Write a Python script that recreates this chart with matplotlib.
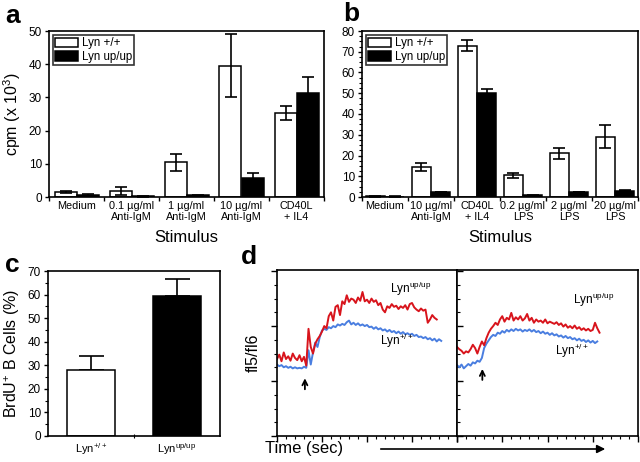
import numpy as np
import matplotlib
matplotlib.use('Agg')
from matplotlib import pyplot as plt
from matplotlib.ticker import MultipleLocator

plt.rcParams['font.family'] = ['Liberation Sans', 'DejaVu Sans']
plt.rcParams['mathtext.default'] = 'regular'
plt.rcParams['axes.linewidth'] = 1.2

# panel a
a_labels = ['Medium', '0.1 µg/ml\nAnti-IgM', '1 µg/ml\nAnti-IgM', '10 µg/ml\nAnti-IgM', 'CD40L\n+ IL4']
a_wt = [1.5, 1.8, 10.5, 39.5, 25.3]
a_wt_err = [0.3, 1.2, 2.6, 9.5, 2.0]
a_up = [0.7, 0.2, 0.5, 5.8, 31.2]
a_up_err = [0.3, 0.1, 0.2, 1.3, 4.8]

# panel b
b_labels = ['Medium', '10 µg/ml\nAnti-IgM', 'CD40L\n+ IL4', '0.2 µg/ml\nLPS', '2 µg/ml\nLPS', '20 µg/ml\nLPS']
b_wt = [0.3, 14.5, 73.0, 10.5, 21.0, 29.0]
b_wt_err = [0.1, 1.8, 2.8, 1.3, 2.8, 5.5]
b_up = [0.2, 2.3, 50.3, 0.8, 2.5, 3.0]
b_up_err = [0.1, 0.1, 1.8, 0.1, 0.1, 0.3]

# panel c
c_labels = ['Lyn$^{+/+}$', 'Lyn$^{up/up}$']
c_vals = [28.0, 59.5]
c_err = [6.0, 7.0]

# panel d (fl5/fl6 traces, sampled every 2.5 s)
d1_up = [1.40, 1.48, 1.36, 1.52, 1.40, 1.45, 1.37, 1.50, 1.42, 1.38, 1.47, 1.36, 1.44, 1.28,
         1.95, 1.62, 1.50, 1.68, 1.76, 1.82, 1.90, 2.00, 1.96, 2.18, 2.25, 2.10, 2.35, 2.38,
         2.20, 2.45, 2.40, 2.56, 2.44, 2.50, 2.48, 2.42, 2.52, 2.46, 2.62, 2.45, 2.48, 2.42,
         2.50, 2.44, 2.47, 2.38, 2.42, 2.30, 2.25, 2.36, 2.33, 2.40, 2.35, 2.37, 2.31, 2.36,
         2.33, 2.38, 2.30, 2.40, 2.42, 2.34, 2.30, 2.27, 2.32, 2.28, 2.30, 2.06, 2.12, 2.20,
         2.15, 2.12]
d1_wt = [1.30, 1.27, 1.29, 1.25, 1.27, 1.24, 1.26, 1.23, 1.25, 1.23, 1.24, 1.23, 1.26, 1.24,
         1.56, 1.30, 1.52, 1.70, 1.62, 1.80, 1.92, 1.95, 1.93, 1.98, 1.96, 2.00, 1.98, 2.03,
         2.01, 2.04, 2.02, 2.07, 2.10, 2.03, 2.06, 2.02, 2.05, 2.01, 2.03, 2.00, 2.02, 1.98,
         1.99, 1.95, 1.98, 1.94, 1.96, 1.92, 1.94, 1.90, 1.93, 1.89, 1.91, 1.87, 1.90, 1.86,
         1.89, 1.85, 1.87, 1.84, 1.86, 1.82, 1.84, 1.80, 1.81, 1.78, 1.80, 1.76, 1.78, 1.74,
         1.77, 1.72, 1.76, 1.73]
d2_up = [1.62, 1.58, 1.55, 1.50, 1.54, 1.52, 1.58, 1.66, 1.60, 1.50, 1.62, 1.72, 1.65, 1.78,
         1.88, 1.95, 2.00, 2.06, 2.02, 2.12, 2.18, 2.08, 2.15, 2.12, 2.24, 2.10, 2.16, 2.12,
         2.18, 2.10, 2.14, 2.22, 2.10, 2.15, 2.06, 2.12, 2.08, 2.10, 2.06, 2.12, 2.05, 2.08,
         2.06, 2.04, 2.07, 2.02, 2.05, 1.99, 2.03, 1.97, 2.00, 1.96, 2.01, 1.95, 1.98, 1.93,
         1.96, 1.92, 1.95, 1.91, 1.93, 2.06, 1.96, 1.88]
d2_wt = [1.29, 1.25, 1.30, 1.23, 1.27, 1.31, 1.28, 1.34, 1.32, 1.37, 1.35, 1.42, 1.60, 1.68,
         1.74, 1.80, 1.84, 1.82, 1.88, 1.86, 1.91, 1.88, 1.93, 1.90, 1.94, 1.91, 1.95, 1.92,
         1.94, 1.90, 1.93, 1.91, 1.94, 1.90, 1.93, 1.89, 1.91, 1.87, 1.90, 1.86, 1.88, 1.84,
         1.87, 1.83, 1.85, 1.81, 1.83, 1.79, 1.82, 1.78, 1.80, 1.76, 1.78, 1.74, 1.77, 1.73,
         1.75, 1.71, 1.74, 1.70, 1.73, 1.69, 1.72]

RED = '#d8141c'
BLUE = '#4a7ee0'

W, H = 640, 462
fig = plt.figure(figsize=(6.4, 4.62), dpi=100)


def px_axes(l, t, r, b):
    return fig.add_axes([l / W, 1 - b / H, (r - l) / W, (b - t) / H])


def bar_panel(ax, labels, wt, wt_err, up, up_err, ymax, width):
    n = len(labels)
    x = np.arange(n) + 0.5
    ax.bar(x - width / 2, wt, width, color='white', edgecolor='black', lw=1.1, label='Lyn +/+', zorder=2)
    ax.bar(x + width / 2, up, width, color='black', edgecolor='black', lw=1.1, label='Lyn up/up', zorder=2)
    ax.errorbar(x - width / 2, wt, yerr=wt_err, fmt='none', ecolor='black', elinewidth=1.2, capsize=4, capthick=1.2, zorder=3)
    ax.errorbar(x + width / 2, up, yerr=up_err, fmt='none', ecolor='black', elinewidth=1.2, capsize=4, capthick=1.2, zorder=3)
    ax.set_xlim(0, n)
    ax.set_ylim(0, ymax)
    ax.set_xticks(np.arange(n + 1))
    ax.set_xticklabels([])
    ax.set_xticks(x, minor=True)
    ax.set_xticklabels(labels, minor=True, fontsize=7.8, linespacing=1.05)
    ax.tick_params(axis='x', which='minor', length=0, pad=3)
    ax.tick_params(axis='x', which='major', length=3, width=1, direction='out')
    ax.tick_params(axis='y', labelsize=8.5, length=3, width=1, pad=2)
    ax.set_xlabel('Stimulus', fontsize=12, labelpad=6)
    ax.legend(loc='upper left', fontsize=8.3, frameon=True, fancybox=False, edgecolor='black',
              handlelength=2.0, handleheight=0.9, borderpad=0.2, labelspacing=0.15,
              handletextpad=0.3, borderaxespad=0.35).get_frame().set_linewidth(1.2)


# a
ax_a = px_axes(49, 31, 324, 197)
bar_panel(ax_a, a_labels, a_wt, a_wt_err, a_up, a_up_err, 50, 0.4)
ax_a.yaxis.set_major_locator(MultipleLocator(10))
ax_a.set_ylabel('cpm (x 10$^{3}$)', fontsize=11.5, labelpad=4)

# b
ax_b = px_axes(362, 31, 638, 197)
bar_panel(ax_b, b_labels, b_wt, b_wt_err, b_up, b_up_err, 80, 0.42)
ax_b.yaxis.set_major_locator(MultipleLocator(10))
ax_b.yaxis.set_minor_locator(MultipleLocator(2.5))
ax_b.tick_params(axis='y', which='minor', length=2, width=0.8)

# c
ax_c = px_axes(48, 271, 220, 436)
xc = np.arange(len(c_vals))
ax_c.bar(xc, c_vals, 0.55, color=['white', 'black'], edgecolor='black', lw=1.1, zorder=2)
ax_c.errorbar(xc, c_vals, yerr=[[0, 0], c_err], fmt='none', ecolor='black', elinewidth=1.2,
              capsize=9, capthick=1.2, zorder=1)
ax_c.set_xlim(-0.5, 1.5)
ax_c.set_ylim(0, 70)
ax_c.yaxis.set_major_locator(MultipleLocator(10))
ax_c.yaxis.set_minor_locator(MultipleLocator(5))
ax_c.set_xticks([0.5])
ax_c.set_xticklabels([])
ax_c.set_xticks(xc, minor=True)
ax_c.set_xticklabels(c_labels, minor=True, fontsize=8)
ax_c.tick_params(axis='x', which='minor', length=0, pad=4)
ax_c.tick_params(axis='x', which='major', length=3, direction='inout')
ax_c.tick_params(axis='y', labelsize=8.5, length=3, width=1, pad=2)
ax_c.tick_params(axis='y', which='minor', length=2, width=0.8)
ax_c.set_ylabel('BrdU$^{+}$ B Cells (%)', fontsize=11.5, labelpad=4)

# d
ax_d1 = px_axes(277, 270, 457, 436)
ax_d2 = px_axes(457, 270, 638, 436)
t1 = np.arange(len(d1_up)) * 2.5
t1b = np.arange(len(d1_wt)) * 2.5
t2 = np.arange(len(d2_up)) * 2.5
t2b = np.arange(len(d2_wt)) * 2.5
ax_d1.plot(t1b, d1_wt, color=BLUE, lw=1.4)
ax_d1.plot(t1, d1_up, color=RED, lw=1.4)
ax_d2.plot(t2b, d2_wt, color=BLUE, lw=1.4)
ax_d2.plot(t2, d2_up, color=RED, lw=1.4)
for ax in (ax_d1, ax_d2):
    ax.set_xlim(0, 200)
    ax.set_ylim(0, 3.02)
    ax.xaxis.set_major_locator(MultipleLocator(50))
    ax.xaxis.set_minor_locator(MultipleLocator(10))
    ax.yaxis.set_major_locator(MultipleLocator(1))
    ax.yaxis.set_minor_locator(MultipleLocator(0.25))
    ax.tick_params(labelbottom=False, labelleft=False)
    ax.tick_params(axis='x', which='major', length=4, width=1, direction='out')
    ax.tick_params(axis='x', which='minor', length=2.5, width=0.8, direction='out')
    ax.tick_params(axis='y', which='major', length=4, width=1, direction='out')
    ax.tick_params(axis='y', which='minor', length=2.5, width=0.8, direction='out')
ax_d2.tick_params(axis='y', which='both', direction='in')
ax_d1.set_ylabel('fl5/fl6', fontsize=11.5, labelpad=6)

arrow_kw = dict(arrowstyle='->', color='black', lw=1.3, shrinkA=0, shrinkB=0, mutation_scale=9)
ax_d1.annotate('', xy=(31, 1.05), xytext=(31, 0.85), arrowprops=arrow_kw)
ax_d2.annotate('', xy=(28, 1.22), xytext=(28, 1.02), arrowprops=arrow_kw)
ax_d1.text(125, 2.6, 'Lyn$^{up/up}$', fontsize=8.5)
ax_d1.text(115, 1.65, 'Lyn$^{+/+}$', fontsize=8.5)
ax_d2.text(128, 2.4, 'Lyn$^{up/up}$', fontsize=8.5)
ax_d2.text(108, 1.48, 'Lyn$^{+/+}$', fontsize=8.5)

fig.text(265 / W, 1 - 449 / H, 'Time (sec)', fontsize=12, va='center', ha='left')
fig.add_artist(matplotlib.patches.FancyArrowPatch((378 / W, 1 - 449 / H), (608 / W, 1 - 449 / H),
                                                  transform=fig.transFigure, arrowstyle='-|>',
                                                  mutation_scale=12, color='black', lw=1.2))

# panel letters
for lbl, x, y in [('a', 5, 4), ('b', 343, 2), ('c', 5, 253), ('d', 241, 245)]:
    fig.text(x / W, 1 - y / H, lbl, fontsize=19, fontweight='bold', va='top', ha='left')

fig.savefig('out.png', dpi=100)
